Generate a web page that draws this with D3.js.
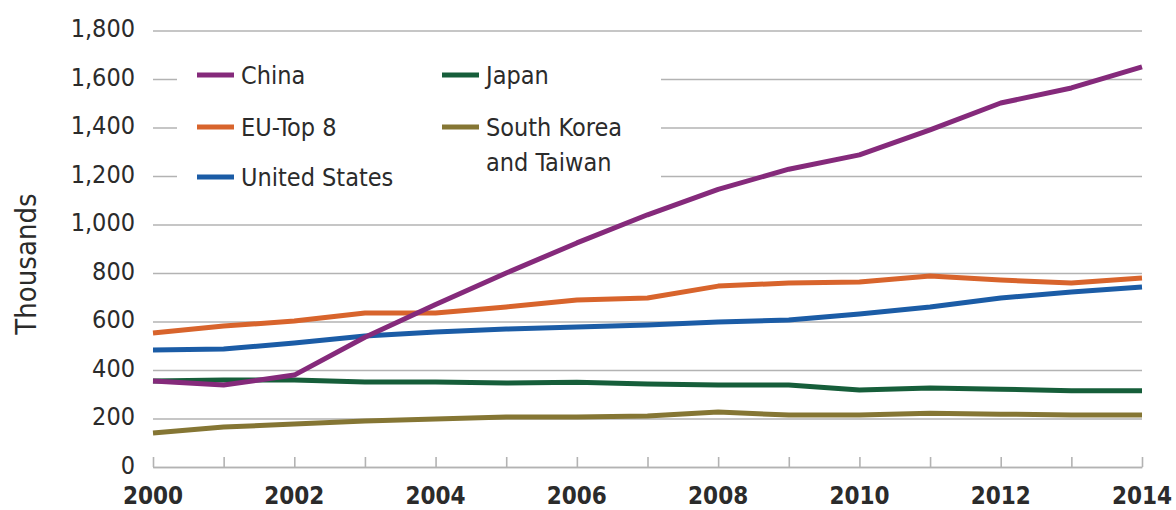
<!DOCTYPE html>
<html>
<head>
<meta charset="utf-8">
<script src="https://cdn.jsdelivr.net/npm/d3@7"></script>
<style>
  body { margin: 0; background: #fff; }
  text { font-family: "DejaVu Sans Condensed", "DejaVu Sans", sans-serif; fill: #2b2b2b; }
</style>
</head>
<body>
<div id="chart"></div>
<script>
  // data (thousands)
  var years = [2000, 2001, 2002, 2003, 2004, 2005, 2006, 2007, 2008, 2009, 2010, 2011, 2012, 2013, 2014];
  var china = [355, 338, 379, 535, 670, 800, 924, 1040, 1145, 1228, 1287, 1390, 1501, 1563, 1650];
  var euTop8 = [553, 581, 602, 635, 635, 660, 689, 697, 746, 759, 763, 788, 771, 759, 779];
  var unitedStates = [482, 487, 511, 540, 557, 569, 577, 586, 598, 606, 631, 660, 697, 722, 742];
  var japan = [355, 359, 359, 351, 351, 346, 349, 342, 338, 338, 318, 326, 321, 314, 314];
  var koreaTaiwan = [140, 165, 177, 190, 198, 206, 206, 210, 227, 214, 214, 222, 218, 214, 214];
  var yTicks = [0, 200, 400, 600, 800, 1000, 1200, 1400, 1600, 1800];
  var xTicks = [2000, 2002, 2004, 2006, 2008, 2010, 2012, 2014];

  var series = [
    { name: ["China"], values: china, color: "#852a7b" },
    { name: ["EU-Top 8"], values: euTop8, color: "#d8642c" },
    { name: ["United States"], values: unitedStates, color: "#1b5ca6" },
    { name: ["Japan"], values: japan, color: "#165e3a" },
    { name: ["South Korea", "and Taiwan"], values: koreaTaiwan, color: "#857634" }
  ];

  var margin = { top: 30.5, right: 34, bottom: 43, left: 153 },
      width = 1176 - margin.left - margin.right,
      height = 510 - margin.top - margin.bottom;

  var svg = d3.select("#chart")
      .append("svg")
      .attr("width", 1176)
      .attr("height", 510)
      .append("g")
      .attr("transform", "translate(" + margin.left + "," + margin.top + ")");

  var x = d3.scaleLinear().domain([2000, 2014]).range([0, width]);
  var y = d3.scaleLinear().domain([0, 1800]).range([height, 0]);

  // gridlines + y labels
  var yAxis = svg.append("g")
      .call(d3.axisLeft(y).tickValues(yTicks).tickSize(-width).tickPadding(18).tickFormat(d3.format(",")));
  yAxis.select(".domain").remove();
  yAxis.selectAll("line").attr("stroke", "#b3b3b3").attr("stroke-width", 1.6);
  yAxis.selectAll("text")
      .attr("dy", null)
      .attr("y", 6)
      .style("font-size", "25px")
      .style("fill", "#2b2b2b");

  // x axis: ticks pointing up from the baseline
  var xAxis = svg.append("g")
      .attr("transform", "translate(0," + height + ")")
      .call(d3.axisBottom(x).ticks(14).tickSizeInner(-10).tickSizeOuter(0).tickFormat(""));
  xAxis.select(".domain").attr("stroke", "#b3b3b3").attr("stroke-width", 1.6);
  xAxis.selectAll("line").attr("stroke", "#b3b3b3").attr("stroke-width", 1.6);

  svg.append("g")
      .selectAll("text")
      .data(xTicks)
      .enter()
      .append("text")
      .attr("x", function (d) { return x(d); })
      .attr("y", height + 36.5)
      .attr("text-anchor", "middle")
      .style("font-size", "24px")
      .style("font-weight", "bold")
      .text(function (d) { return d; });

  // y axis title
  svg.append("text")
      .attr("transform", "rotate(-90)")
      .attr("x", -(264 - margin.top))
      .attr("y", -margin.left + 36)
      .attr("text-anchor", "middle")
      .style("font-size", "29px")
      .text("Thousands");

  // legend box hides the gridlines behind it
  var legend = svg.append("g").attr("transform", "translate(" + (-margin.left) + "," + (-margin.top) + ")");
  legend.append("rect")
      .attr("x", 177)
      .attr("y", 50)
      .attr("width", 484)
      .attr("height", 150)
      .attr("fill", "#fff");

  var legendPos = [[197, 75], [197, 127], [197, 177], [442, 75], [442, 127]];
  var items = legend.selectAll(".item")
      .data(series)
      .enter()
      .append("g")
      .attr("transform", function (d, i) { return "translate(" + legendPos[i][0] + "," + legendPos[i][1] + ")"; });
  items.append("line")
      .attr("x1", 0).attr("x2", 37)
      .attr("stroke", function (d) { return d.color; })
      .attr("stroke-width", 5);
  items.each(function (d) {
      var t = d3.select(this).append("text")
          .attr("x", 44)
          .attr("y", 9)
          .style("font-size", "25px");
      d.name.forEach(function (s, k) {
          t.append("tspan").attr("x", 44).attr("dy", k === 0 ? 0 : 35).text(s);
      });
  });

  // lines
  var line = d3.line()
      .x(function (d, i) { return x(years[i]); })
      .y(function (d) { return y(d); });

  svg.append("g")
      .selectAll("path")
      .data(series.slice().reverse())
      .enter()
      .append("path")
      .attr("d", function (d) { return line(d.values); })
      .attr("fill", "none")
      .attr("stroke", function (d) { return d.color; })
      .attr("stroke-width", 5)
      .attr("stroke-linejoin", "round");
</script>
</body>
</html>
